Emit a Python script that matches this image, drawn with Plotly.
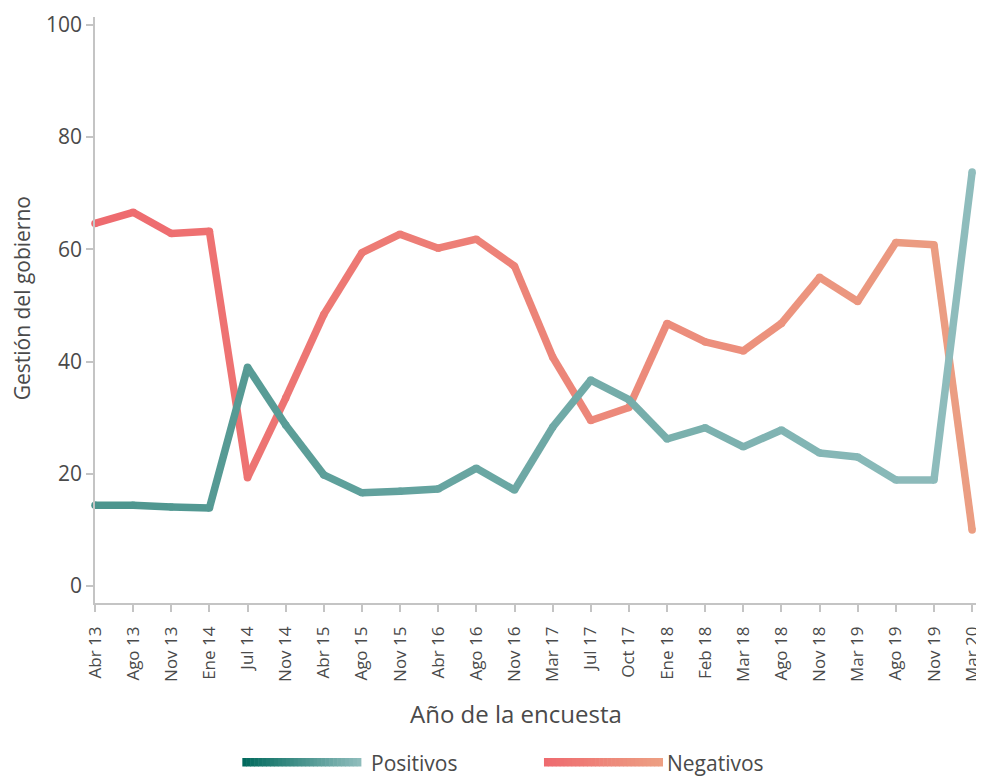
import plotly.graph_objects as go

categories = ["Abr 13", "Ago 13", "Nov 13", "Ene 14", "Jul 14", "Nov 14", "Abr 15", "Ago 15",
              "Nov 15", "Abr 16", "Ago 16", "Nov 16", "Mar 17", "Jul 17", "Oct 17", "Ene 18",
              "Feb 18", "Mar 18", "Ago 18", "Nov 18", "Mar 19", "Ago 19", "Nov 19", "Mar 20"]
positivos = [14.4, 14.4, 14.1, 13.9, 39.0, 28.7, 19.8, 16.6, 16.9, 17.3, 21.0, 17.1,
             28.3, 36.7, 33.2, 26.2, 28.2, 24.8, 27.8, 23.7, 23.0, 18.9, 18.9, 73.8]
negativos = [64.6, 66.6, 62.8, 63.2, 19.3, 33.5, 48.4, 59.4, 62.7, 60.2, 61.8, 57.0,
             40.8, 29.5, 31.8, 46.8, 43.5, 41.9, 46.8, 55.0, 50.7, 61.2, 60.8, 10.0]
y_ticks = [0, 20, 40, 60, 80, 100]

TEAL = ((0x4b, 0x94, 0x8d), (0x90, 0xbd, 0xbd))
RED = ((0xee, 0x6a, 0x6f), (0xeb, 0x9e, 0x82))
TEAL_LEG = ((0x00, 0x69, 0x5c), (0x90, 0xbd, 0xbd))
RED_LEG = ((0xee, 0x6a, 0x6f), (0xed, 0xa0, 0x83))


def mix(c, t):
    a, b = c
    return "rgb(%d,%d,%d)" % tuple(round(a[k] + (b[k] - a[k]) * t) for k in range(3))


fig = go.Figure()
n = len(categories)
LW = 7.5
for vals, grad in ((negativos, RED), (positivos, TEAL)):
    for i in range(n - 1):
        t = (i + 0.5) / (n - 1)
        fig.add_trace(go.Scatter(x=[categories[i], categories[i + 1]], y=[vals[i], vals[i + 1]],
                                 mode="lines", line=dict(color=mix(grad, t), width=LW),
                                 showlegend=False, hoverinfo="skip", cliponaxis=False))
    fig.add_trace(go.Scatter(x=categories, y=vals, mode="markers",
                             marker=dict(size=LW, color=[mix(grad, i / (n - 1)) for i in range(n)],
                                         line=dict(width=0)),
                             showlegend=False, hoverinfo="skip", cliponaxis=False))

# page offset of the figure (default body margin) and plot area geometry in page px
OFF = 8
FW, FH = 984 - OFF, 776 - OFF
X0, X1, YT, YB = 95, 983, 17, 603
W, H = X1 - X0, YB - YT


def px(x):
    return (x - X0) / W


def py(y):
    return (YB - y) / H


shapes = []
annotations = []
# custom gradient legend
for (x_a, x_b, grad, label, tx) in ((243, 362, TEAL_LEG, "Positivos", 370),
                                   (546, 665, RED_LEG, "Negativos", 668)):
    steps = 30
    for k in range(steps):
        xa = x_a + (x_b - x_a) * k / steps
        xb = x_a + (x_b - x_a) * (k + 1) / steps + 0.6
        shapes.append(dict(type="rect", xref="paper", yref="paper",
                           x0=px(xa), x1=px(xb), y0=py(766.5), y1=py(758),
                           fillcolor=mix(grad, (k + 0.5) / steps), line=dict(width=0)))
    annotations.append(dict(text=label, xref="paper", yref="paper", x=px(tx), y=py(763),
                            xanchor="left", yanchor="middle", showarrow=False,
                            font=dict(size=21, color="#4a4a4a")))

annotations.append(dict(text="Año de la encuesta", xref="paper", yref="paper",
                        x=px(518), y=py(713), xanchor="center", yanchor="middle",
                        showarrow=False, font=dict(size=24, color="#4a4a4a")))
annotations.append(dict(text="Gestión del gobierno", xref="paper", yref="paper",
                        x=px(22), y=py(298), xanchor="center", yanchor="middle",
                        textangle=-90, showarrow=False, font=dict(size=21, color="#4a4a4a")))

fig.update_layout(
    width=FW, height=FH,
    margin=dict(l=X0 - OFF, r=984 - X1, t=YT - OFF, b=776 - YB),
    paper_bgcolor="white", plot_bgcolor="white",
    font=dict(family="Open Sans", color="#4a4a4a"),
    shapes=shapes, annotations=annotations,
    showlegend=False,
)
fig.update_xaxes(type="category", categoryorder="array", categoryarray=categories,
                 range=[0, 23.18], showgrid=False, zeroline=False,
                 showline=True, linecolor="#c4c4c4", linewidth=1.5,
                 ticks="outside", ticklen=7, tickcolor="#c4c4c4", tickwidth=1.5,
                 ticklabelstandoff=8,
                 tickangle=-90, tickfont=dict(size=17, color="#4a4a4a"))
fig.update_yaxes(range=[-3.03, 101.4], tickvals=y_ticks, showgrid=False, zeroline=False,
                 showline=True, linecolor="#c4c4c4", linewidth=1.5,
                 ticks="outside", ticklen=7, tickcolor="#c4c4c4", tickwidth=1.5,
                 tickfont=dict(size=21, color="#4a4a4a"))

fig.write_html("out.html")
